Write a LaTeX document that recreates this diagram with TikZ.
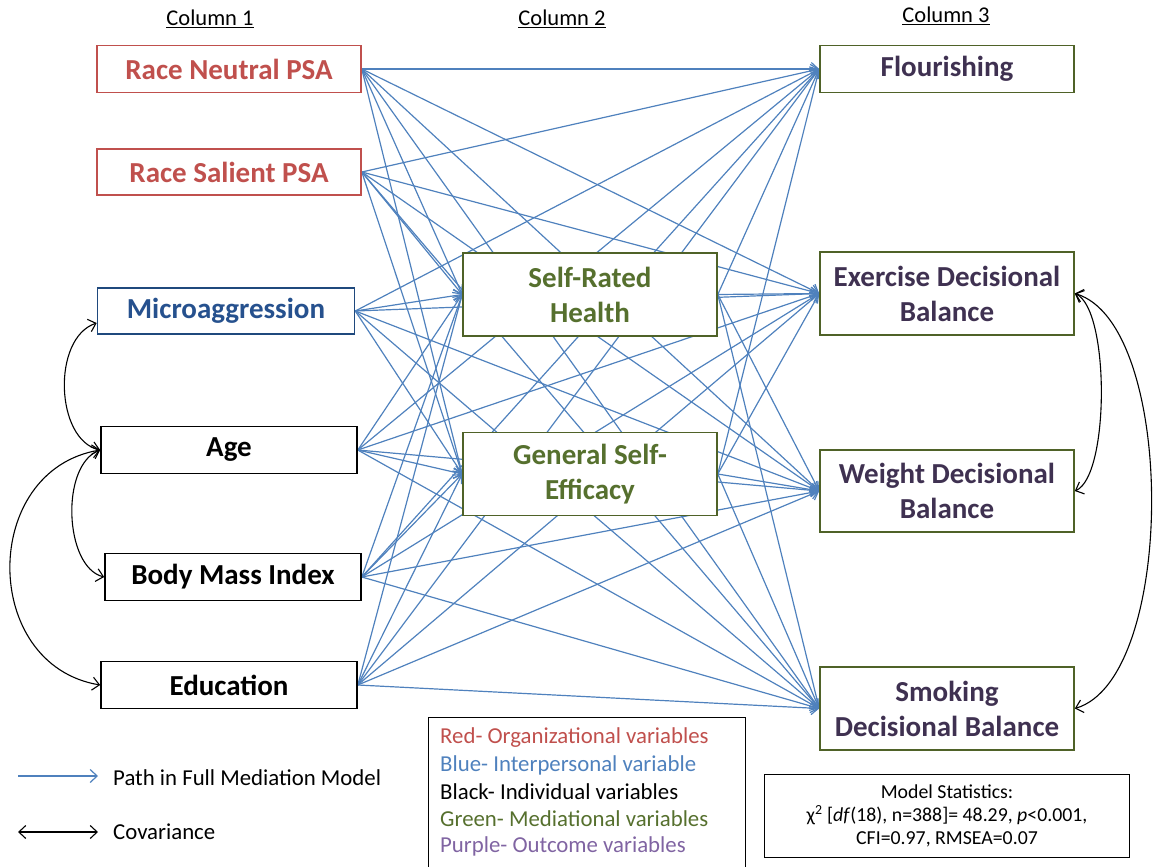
\documentclass[tikz,border=0pt]{standalone}
\usepackage{fontspec}
\setmainfont{Carlito}
\usetikzlibrary{arrows.meta,backgrounds}
\definecolor{cred}{HTML}{C0504D}
\definecolor{cblue}{HTML}{4F81BD}
\definecolor{cdblue}{HTML}{1F497D}
\definecolor{cdbluetext}{HTML}{26518E}
\definecolor{cgreen}{HTML}{4F6228}
\definecolor{cgreentext}{HTML}{56702E}
\definecolor{cpurple}{HTML}{3F3151}
\definecolor{clpurple}{HTML}{8064A2}
\tikzset{
  varbox/.style={draw, fill=white, line width=1.6pt, inner sep=0pt, align=center,
    font=\fontsize{29}{35}\selectfont\bfseries},
  pathline/.style={cblue, line width=1.2pt, -{Straight Barb[length=7pt,width=13pt]}},
  cov/.style={black, line width=1.1pt, {Straight Barb[length=7pt,width=13pt]}-{Straight Barb[length=7pt,width=13pt]}},
  colhead/.style={font=\fontsize{22.5}{26}\selectfont},
  legtext/.style={anchor=west, inner sep=0pt, font=\fontsize{22.8}{26}\selectfont},
  infobox/.style={draw, line width=1.2pt, inner sep=0pt},
}
\begin{document}
\begin{tikzpicture}[x=1pt,y=-1pt]
\useasboundingbox (0,0) rectangle (1157,867);

% column headers
\node[colhead] (h1) at (210,19) {\underline{Column 1}};
\node[colhead] (h2) at (562,19) {\underline{Column 2}};
\node[colhead] (h3) at (946,16) {\underline{Column 3}};

% column 1
\node[varbox, draw=cred, text=cred, minimum width=264, minimum height=47] (rn) at (229,69) {Race Neutral PSA};
\node[varbox, draw=cred, text=cred, minimum width=264, minimum height=46] (rs) at (229,172) {Race Salient PSA};
\node[varbox, draw=cdblue, text=cdbluetext, minimum width=257, minimum height=46] (mi) at (226,311) {Microaggression};
\node[varbox, draw=black, text=black, minimum width=256, minimum height=47] (age) at (229,450) {Age};
\node[varbox, draw=black, text=black, minimum width=256, minimum height=47] (bmi) at (233,577) {Body Mass Index};
\node[varbox, draw=black, text=black, minimum width=256, minimum height=47] (edu) at (229,685) {Education};

% column 2
\node[varbox, draw=cgreen, text=cgreentext, minimum width=254, minimum height=83] (srh) at (590,294.5) {Self-Rated\\Health};
\node[varbox, draw=cgreen, text=cgreentext, minimum width=254, minimum height=83] (gse) at (590,474) {General Self-\\Efficacy};

% column 3
\node[varbox, draw=cgreen, text=cpurple, minimum width=254, minimum height=47] (flo) at (947,69) {Flourishing};
\node[varbox, draw=cgreen, text=cpurple, minimum width=254, minimum height=83] (exe) at (947,293.5) {Exercise Decisional\\Balance};
\node[varbox, draw=cgreen, text=cpurple, minimum width=254, minimum height=82] (wei) at (947,491) {Weight Decisional\\Balance};
\node[varbox, draw=cgreen, text=cpurple, minimum width=254, minimum height=83] (smo) at (947,708.5) {Smoking\\Decisional Balance};

% paths
\begin{pgfonlayer}{background}
\foreach \s in {rn,rs,mi,age,bmi,edu}
  \foreach \t in {srh,gse,flo,exe,wei,smo}
    \draw[pathline] (\s.east) -- (\t.west);
\foreach \s in {srh,gse}
  \foreach \t in {flo,exe,wei,smo}
    \draw[pathline] (\s.east) -- (\t.west);
\end{pgfonlayer}

% covariances
\draw[cov] ([yshift=-12pt]mi.west) .. controls +(-45,15) and +(-45,-10) .. (age.west);
\draw[cov] (age.west) .. controls +(-40,15) and +(-40,-10) .. (bmi.west);
\draw[cov] (age.west) .. controls +(-120,20) and +(-120,-20) .. (edu.west);
\draw[cov] (exe.east) .. controls +(35,15) and +(35,-15) .. (wei.east);
\draw[cov] (exe.east) .. controls +(102,30) and +(102,-30) .. (smo.east);

% legend arrows
\coordinate (pa) at (18,776);
\coordinate (pb) at (98,776);
\coordinate (ca) at (18,832);
\coordinate (cb) at (98,832);
\draw[pathline] (pa) -- (pb);
\draw[cov] (ca) -- (cb);
\node[legtext] (pt) at (113,778) {Path in Full Mediation Model};
\node[legtext] (ct) at (113,832) {Covariance};

% colour legend
\node[infobox, anchor=north west, minimum width=317, minimum height=150] (leg) at (428,717) {};
\node[legtext, text=cred] (l1) at (440,738) {Red- Organizational variables};
\node[legtext, text=cblue] (l2) at (440,765) {Blue- Interpersonal variable};
\node[legtext, text=black] (l3) at (440,792) {Black- Individual variables};
\node[legtext, text=cgreentext] (l4) at (440,819) {Green- Mediational variables};
\node[legtext, text=clpurple] (l5) at (440,846) {Purple- Outcome variables};

% model statistics
\node[infobox, minimum width=365, minimum height=83, align=center,
  font=\fontsize{19.8}{23}\selectfont] (ms) at (947,816)
  {Model Statistics:\\χ\textsuperscript{2} [\textit{df}(18), n=388]= 48.29, \textit{p}<0.001,\\CFI=0.97, RMSEA=0.07};
\end{tikzpicture}
\end{document}
